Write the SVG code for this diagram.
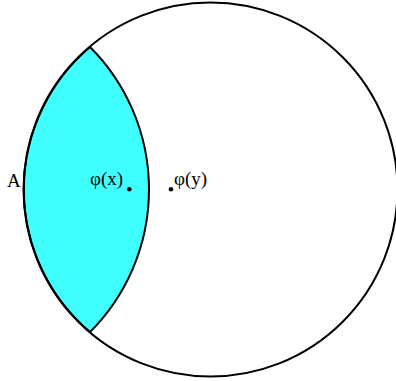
<svg xmlns="http://www.w3.org/2000/svg" width="396" height="381" viewBox="0 0 396 381">
<style>
.ln{stroke:#000;stroke-width:2;}
.t{font-family:"Liberation Serif",serif;font-size:19px;fill:#000;}
</style>
<rect width="396" height="381" fill="#fff"/>
<g id="lens">
<path class="ln" d="M90,47 A186.6,186.6 0 0 0 90,332 A201.6,201.6 0 0 0 90,47 Z" fill="#40ffff"/>
</g>
<g id="circle">
<circle class="ln" cx="210.5" cy="189.5" r="187" fill="none"/>
</g>
<g id="A"><text class="t" x="7" y="187">A</text></g>
<g id="px">
<circle cx="129.3" cy="189.3" r="2.3" fill="#000"/>
<text class="t" x="90" y="185">φ(x)</text>
</g>
<g id="py">
<circle cx="171" cy="189.3" r="2.3" fill="#000"/>
<text class="t" x="174" y="185">φ(y)</text>
</g>
</svg>
